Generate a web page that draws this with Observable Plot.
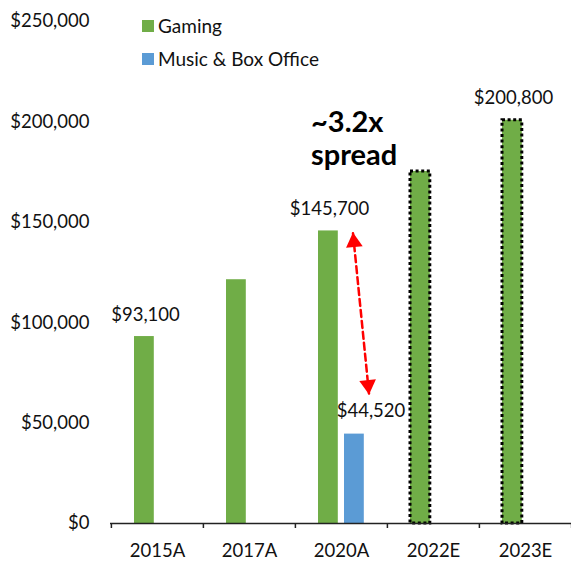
<!DOCTYPE html>
<html><head><meta charset="utf-8">
<script src="https://cdn.jsdelivr.net/npm/d3@7"></script>
<script src="https://cdn.jsdelivr.net/npm/@observablehq/plot@0.6"></script>
<style>
body{margin:0;background:#fff;}
#wrap{position:relative;width:571px;height:562px;font-family:Lato,sans-serif;}
.leg{position:absolute;left:142px;display:flex;align-items:center;height:24px;line-height:24px;font-size:19px;color:#111;white-space:nowrap;}
.sw{width:12px;height:12px;margin-right:4px;}
</style></head><body><div id="wrap"></div>
<script>
// ---- data ----
const categories = ["2015A", "2017A", "2020A", "2022E", "2023E"];
const gaming = [93100, 121400, 145700, 175300, 200800];
const music = [null, null, 44520, null, null];
const estimated = ["2022E", "2023E"];
const yTicks = [0, 50000, 100000, 150000, 200000, 250000];
const gamingLabels = [["2015A", 93100], ["2020A", 145700], ["2023E", 200800]];
const musicLabels = [["2020A", 44520]];
const seriesNames = ["Gaming", "Music & Box Office"];
const seriesColors = ["#70AD47", "#5B9BD5"];
const spreadNote = {cat: "2020A", value: 178300, text: "~3.2x\nspread"};
const arrowLine = {cat: "2020A", mid: 104600};
const arrowHeads = {cat: "2020A", top: 140100, bottom: 69000};

// ---- layout ----
const W = 571, H = 562, ML = 110, MR = 0, MT = 21, MB = 39;
const step = (W - ML - MR) / categories.length;
const barW = 20, gOff = 23, mOff = 49;

const gRows = categories.map((c, i) => ({cat: c, value: gaming[i]}));
const mRows = categories.map((c, i) => ({cat: c, value: music[i]})).filter(d => d.value != null);
const eRows = gRows.filter(d => estimated.includes(d.cat));
const fmt = d => "$" + d3.format(",")(d);

const chart = Plot.plot({
  width: W, height: H,
  marginLeft: ML, marginRight: MR, marginTop: MT, marginBottom: MB,
  style: {fontFamily: "Lato, sans-serif", fontSize: "18.5px", color: "#111", background: "#fff"},
  x: {type: "band", domain: categories, padding: 0, label: null},
  y: {domain: [0, 250000], label: null},
  marks: [
    Plot.barY(gRows.filter(d => !estimated.includes(d.cat)), {x: "cat", y: "value", fill: seriesColors[0], insetLeft: gOff, insetRight: step - gOff - barW}),
    Plot.barY(eRows, {x: "cat", y: "value", fill: seriesColors[0], stroke: "#000", strokeWidth: 3, strokeDasharray: "3 2.6", insetLeft: gOff, insetRight: step - gOff - barW}),
    Plot.barY(mRows, {x: "cat", y: "value", fill: seriesColors[1], insetLeft: mOff, insetRight: step - mOff - barW}),
    Plot.axisY(yTicks, {tickSize: 0, tickPadding: 21, tickFormat: fmt, label: null, fontSize: 18.5}),
    Plot.ruleY([0], {stroke: "#222", strokeWidth: 1.5}),
    Plot.axisX({tickSize: 0, tickPadding: 20, label: null, fontSize: 18.5}),
    Plot.axisX({tickSize: 5, dx: -step / 2, tickFormat: () => "", label: null, stroke: "#222", strokeWidth: 1.5}),
    Plot.axisX([categories[categories.length - 1]], {tickSize: 5, dx: step / 2, tickFormat: () => "", label: null, stroke: "#222", strokeWidth: 1.5}),
    Plot.text(gamingLabels, {x: d => d[0], y: d => d[1], text: d => fmt(d[1]), lineAnchor: "bottom", dy: -16, dx: -12, fontSize: 18.5, fill: "#111"}),
    Plot.text(musicLabels, {x: d => d[0], y: d => d[1], text: d => fmt(d[1]), lineAnchor: "bottom", dy: -17, dx: 29.5, fontSize: 18.5, fill: "#111"}),
    Plot.text([spreadNote], {x: "cat", y: "value", text: "text", textAnchor: "start", lineAnchor: "bottom", lineHeight: 1.15, dx: -30.5, fontSize: 29, fontWeight: "bold", fill: "#000"}),
    Plot.vector([arrowLine], {x: "cat", y: "mid", length: 161, rotate: -5.7, anchor: "middle", dx: 19.5, stroke: "#FF0000", strokeWidth: 2.5, strokeDasharray: "7 4",
      shape: {draw(ctx, l) { ctx.moveTo(0, 0); ctx.lineTo(0, -l); }}}),
    Plot.dot([arrowHeads], {x: "cat", y: "top", dx: 12.4, symbol: "triangle", r: 6.2, fill: "#FF0000", rotate: -5.7}),
    Plot.dot([arrowHeads], {x: "cat", y: "bottom", dx: 26.6, symbol: "triangle", r: 6.2, fill: "#FF0000", rotate: 174.3})
  ]
});
const wrap = document.getElementById("wrap");
wrap.appendChild(chart);
seriesNames.forEach((name, i) => {
  const d = document.createElement("div");
  d.className = "leg";
  d.style.top = (14 + i * 33) + "px";
  d.innerHTML = `<span class="sw" style="background:${seriesColors[i]}"></span><span></span>`;
  d.lastChild.textContent = name;
  wrap.appendChild(d);
});
</script></body></html>
